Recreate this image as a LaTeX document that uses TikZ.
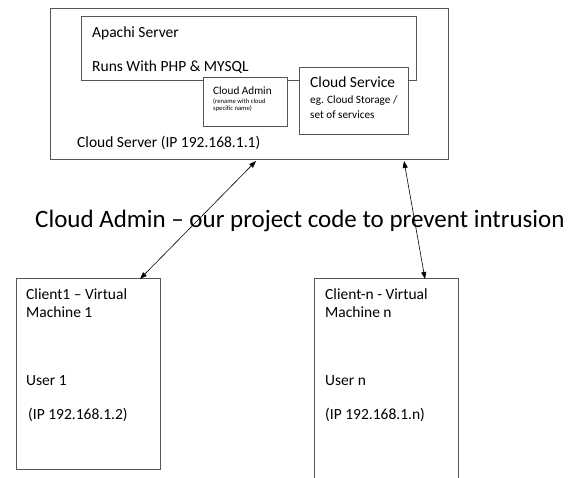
\documentclass[tikz,border=0pt]{standalone}
\usepackage{fontspec}
\setmainfont{Carlito}
\usetikzlibrary{arrows.meta}
\definecolor{boxline}{RGB}{85,85,85}
\tikzset{
  frame/.style={draw=boxline, line width=1pt, fill=white, anchor=north west, inner sep=0pt, outer sep=0pt},
  lbl/.style={anchor=base west, inner sep=0pt, font=\fontsize{15.5}{18}\selectfont},
  lblsmall/.style={anchor=base west, inner sep=0pt, font=\fontsize{11.2}{13}\selectfont},
  lbltiny/.style={anchor=base west, inner sep=0pt, font=\fontsize{6.6}{8}\selectfont},
  link/.style={draw=black, line width=0.6pt, {Triangle[length=7pt,width=5pt]}-{Triangle[length=7pt,width=5pt]}}
}
\begin{document}
\begin{tikzpicture}[x=1pt,y=-1pt]
\useasboundingbox (0,0) rectangle (584,478);
\clip (0,0) rectangle (584,478);
\fill[white] (0,0) rectangle (584,478);
% cloud server
\node[frame, minimum width=398pt, minimum height=151pt] (outer) at (50,9) {};
\node[frame, minimum width=335pt, minimum height=64pt] (apache) at (81,17) {};
\node[frame, minimum width=84pt, minimum height=49pt] (admin) at (203,78) {};
\node[frame, minimum width=109pt, minimum height=67pt] (service) at (299,68) {};
\node[lbl] (t1) at (92,38) {Apachi Server};
\node[lbl] (t2) at (92,72) {Runs With PHP \& MYSQL};
\node[lbl] (t3) at (77,148) {Cloud Server (IP 192.168.1.1)};
\node[lbl] (t4) at (310,88) {Cloud Service};
\node[lblsmall] (t5) at (310,103.5) {eg. Cloud Storage /};
\node[lblsmall] (t6) at (310,118.5) {set of services};
\node[lblsmall] (t7) at (213,95) {Cloud Admin};
\node[lbltiny] (t8) at (213,104) {(rename with cloud};
\node[lbltiny] (t9) at (213,110.5) {specific name)};
% caption
\node[anchor=base west, inner sep=0pt, font=\fontsize{25}{30}\selectfont] (cap) at (35,228) {Cloud Admin -- our project code to prevent intrusion};
% clients
\node[frame, minimum width=144pt, minimum height=190pt] (c1) at (16,279) {};
\node[frame, minimum width=144pt, minimum height=240pt] (cn) at (314,279) {};
\node[lbl] (c1a) at (26,300) {Client1 -- Virtual};
\node[lbl] (c1b) at (26,318) {Machine 1};
\node[lbl] (c1c) at (26,386) {User 1};
\node[lbl] (c1d) at (28,420) {(IP 192.168.1.2)};
\node[lbl] (cna) at (325,300) {Client-n - Virtual};
\node[lbl] (cnb) at (325,318) {Machine n};
\node[lbl] (cnc) at (325,386) {User n};
\node[lbl] (cnd) at (325,420) {(IP 192.168.1.n)};
% links
\draw[link] ([xshift=206pt,yshift=-1pt]outer.south west) -- ([xshift=124pt]c1.north west);
\draw[link] ([xshift=354pt,yshift=-1pt]outer.south west) -- ([xshift=111pt]cn.north west);
\end{tikzpicture}
\end{document}
